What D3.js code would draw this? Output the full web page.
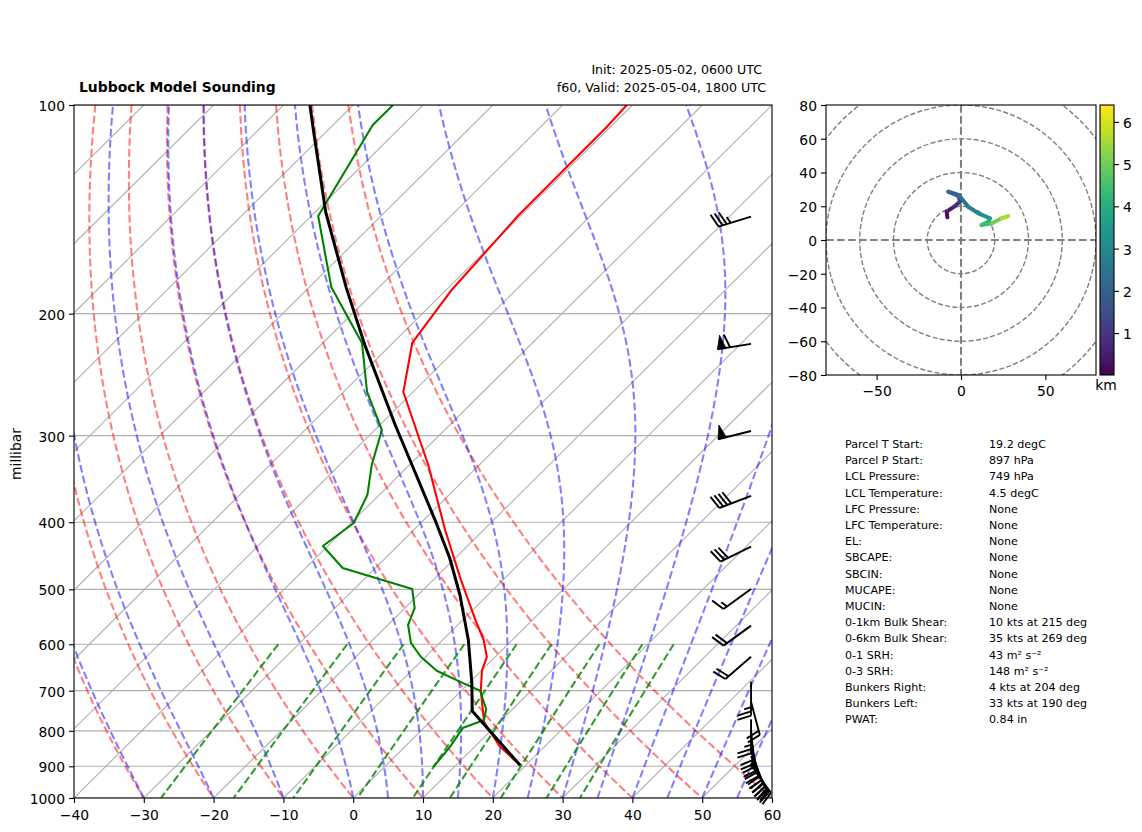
<!DOCTYPE html>
<html>
<head>
<meta charset="utf-8">
<script src="https://cdn.jsdelivr.net/npm/d3@7"></script>
<style>
  html, body { margin: 0; padding: 0; background: #fff; }
  text { font-family: "DejaVu Sans", sans-serif; fill: #000; }
  .tick text { font-size: 13.9px; }
</style>
</head>
<body>
<svg id="chart" width="1142" height="832"></svg>
<script>
// sounding values
const tempP = [100, 107.6, 144.6, 184.9, 220.5, 259.5, 330.7, 410.5, 484.8, 557, 591.6, 626, 653.7, 698.6, 777, 843, 897];
const tempC = [-60.8, -60.5, -60.4, -59.2, -57.2, -51.4, -37.3, -25.5, -16, -7.8, -4.1, -1.2, 0, 2.7, 7.8, 13.6, 19.2];

const dewP = [100, 106.9, 144.6, 183, 220.5, 259.5, 294.4, 330.7, 365.3, 401, 432.9, 465.7, 499.4, 532, 562.8, 597.4, 625.4, 655.2, 679.4, 700.2, 743.9, 771.9, 792.7, 844, 902];
const dewC = [-94.3, -94.3, -89, -76.9, -64.4, -56.6, -49, -45.4, -41.7, -39.6, -40.7, -34.7, -21.7, -18.6, -17.1, -14.1, -10.7, -6.4, -1.5, 2.7, 6.2, 7.5, 5.6, 6.5, 7];

const parcelP = [100, 108, 142.7, 183.6, 222, 289.6, 336.3, 399.6, 450.5, 509.4, 591.6, 682.4, 749, 897];
const parcelC = [-106.2, -102.4, -88.5, -74.6, -63.7, -47.8, -38.6, -28, -20.8, -14, -6.3, 0.4, 4.5, 19.2];

// wind barbs
const barbP = [144.9, 221.2, 295.4, 366.4, 433.9, 499.4, 564, 625.4, 679.4, 727, 770, 798, 816.5, 833, 847, 858, 870, 881, 890, 897];
const barbDir = [253, 261, 256, 249, 244, 234, 234, 229, 180, 165, 180, 175, 171, 168, 163, 159, 156, 152, 148, 144];
const barbKt = [35, 60, 50, 40, 30, 15, 20, 20, 25, 20, 25, 20, 20, 20, 20, 20, 20, 25, 20, 20];

// hodograph
const hodoU = [-8.1, -8.5, -3.6, -0.6, -1.6, -7.5, -0.6, 4.3, 10.3, 17.2, 16.2, 12.2, 18.2, 24.1, 28];
const hodoV = [13.4, 16.8, 20.1, 22.7, 26.7, 28.6, 25.7, 19.7, 15.8, 12.9, 10.8, 8.9, 9.9, 12.9, 14.2];
const hodoKm = [0.1, 0.4, 0.7, 1, 1.4, 1.9, 2.2, 2.6, 3, 3.4, 3.8, 4.2, 4.7, 5.3, 5.9];

// guide line families
const pressureTicks = [100, 200, 300, 400, 500, 600, 700, 800, 900, 1000];
const tempTicks = d3.range(-40, 61, 10);
const isotherms = d3.range(-130, 61, 10);
const dryStart = d3.range(-40, 61, 10);
const moistStart = [-40, -30, -20, -10, 0, 5, 10, 15, 20, 25, 30, 35, 40, 45, 50, 55, 60];
const mixRatios = [0.0004, 0.001, 0.002, 0.004, 0.007, 0.01, 0.016, 0.024, 0.032];
const hodoRings = [20, 40, 60, 80, 100, 120];

const statLabels = ["Parcel T Start:", "Parcel P Start:", "LCL Pressure:", "LCL Temperature:", "LFC Pressure:", "LFC Temperature:", "EL:", "SBCAPE:", "SBCIN:", "MUCAPE:", "MUCIN:", "0-1km Bulk Shear:", "0-6km Bulk Shear:", "0-1 SRH:", "0-3 SRH:", "Bunkers Right:", "Bunkers Left:", "PWAT:"];
const statValues = ["19.2 degC", "897 hPa", "749 hPa", "4.5 degC", "None", "None", "None", "None", "None", "None", "None", "10 kts at 215 deg", "35 kts at 269 deg", "43 m\u00b2 s\u207b\u00b2", "148 m\u00b2 s\u207b\u00b2", "4 kts at 204 deg", "33 kts at 190 deg", "0.84 in"];

const svg = d3.select("#chart");

const plotL = 74, plotR = 772, plotT = 105, plotB = 798;
const x = d3.scaleLinear().domain([-40, 60]).range([plotL, plotR]);
const y = d3.scaleLog().domain([1000, 100]).range([plotB, plotT]);
const skew = (plotR - plotL) / (plotB - plotT);

// skewed position of a temperature at a pressure
function px(t, p) {
    return x(t) + (plotB - y(p)) * skew;
}
const skewLine = d3.line().x(d => px(d[0], d[1])).y(d => y(d[1]));
const stepP = d3.range(100, 1001, 10);

function satVap(tk) {
    return 6.112 * Math.exp(17.67 * (tk - 273.15) / (tk - 29.65));
}
// moist lapse rate, dT/dp
function moistRate(p, tk) {
    const rs = 0.622 * satVap(tk) / (p - satVap(tk));
    return (287 * tk + 2.501e6 * rs) / (1005 + 2.501e6 * 2.501e6 * rs * 0.622 / (287 * tk * tk)) / p;
}
function moistCurve(t0) {
    let tk = t0 + 273.15;
    const out = [[t0, 1000]];
    for (let p = 1000; p > 100; p -= 5) {
        const k1 = moistRate(p, tk);
        const k2 = moistRate(p - 2.5, tk - 2.5 * k1);
        const k3 = moistRate(p - 2.5, tk - 2.5 * k2);
        const k4 = moistRate(p - 5, tk - 5 * k3);
        tk -= 5 * (k1 + 2 * k2 + 2 * k3 + k4) / 6;
        out.push([tk - 273.15, p - 5]);
    }
    return out;
}
function mixCurve(w) {
    return d3.range(600, 1001, 25).map(p => {
        const g = Math.log(p * w / (0.622 + w) / 6.112);
        return [243.5 * g / (17.67 - g), p];
    });
}

svg.append("defs").append("clipPath").attr("id", "skewClip")
    .append("rect").attr("x", plotL).attr("y", plotT).attr("width", plotR - plotL).attr("height", plotB - plotT);

const plot = svg.append("g").attr("clip-path", "url(#skewClip)");

// grid
plot.selectAll(".pgrid").data(pressureTicks).enter().append("line")
    .attr("x1", plotL).attr("x2", plotR)
    .attr("y1", d => y(d)).attr("y2", d => y(d))
    .attr("stroke", "#b0b0b0").attr("stroke-width", 1.1);
plot.selectAll(".iso").data(isotherms).enter().append("path")
    .attr("d", d => skewLine([[d, 1000], [d, 100]]))
    .attr("fill", "none").attr("stroke", "#b0b0b0").attr("stroke-width", 1.1);

// dry adiabats
plot.selectAll(".dry").data(dryStart).enter().append("path")
    .attr("d", d => skewLine(stepP.map(p => [(d + 273.15) * Math.pow(p / 1000, 0.286) - 273.15, p])))
    .attr("fill", "none").attr("stroke", "#f00").attr("stroke-opacity", 0.5)
    .attr("stroke-width", 2.08).attr("stroke-dasharray", "7.7 3.3");
// moist adiabats
plot.selectAll(".moist").data(moistStart).enter().append("path")
    .attr("d", d => skewLine(moistCurve(d)))
    .attr("fill", "none").attr("stroke", "#00f").attr("stroke-opacity", 0.5)
    .attr("stroke-width", 2.08).attr("stroke-dasharray", "7.7 3.3");
// mixing ratio
plot.selectAll(".mix").data(mixRatios).enter().append("path")
    .attr("d", d => skewLine(mixCurve(d)))
    .attr("fill", "none").attr("stroke", "#008000").attr("stroke-opacity", 0.8)
    .attr("stroke-width", 2.08).attr("stroke-dasharray", "7.7 3.3");

// profiles
function profile(ps, ts, color, width) {
    plot.append("path")
        .attr("d", skewLine(ps.map((p, i) => [ts[i], p])))
        .attr("fill", "none").attr("stroke", color).attr("stroke-width", width)
        .attr("stroke-linejoin", "round");
}
profile(tempP, tempC, "#f00", 2.08);
profile(dewP, dewC, "#008000", 2.08);
profile(parcelP, parcelC, "#000", 3);

// wind barbs
const barbX = plotL + 0.97 * (plotR - plotL);
const barbLen = 34;
function barbParts(dir, kt) {
    const a = dir * Math.PI / 180;
    const dx = Math.sin(a), dy = -Math.cos(a);
    const nx = -dy, ny = dx;
    const h = 0.4 * barbLen, w = 0.25 * barbLen, gap = 0.125 * barbLen;
    const at = (s, n) => [(barbLen - s) * dx + n * nx, (barbLen - s) * dy + n * ny];
    const lines = [[at(barbLen, 0), at(0, 0)]], flags = [];
    let fives = Math.round(kt / 5), s = 0;
    while (fives >= 10) {
        flags.push([at(s, 0), at(s + w / 2, h), at(s + w, 0)]);
        s += w + gap;
        fives -= 10;
    }
    while (fives >= 2) {
        lines.push([at(s, 0), at(s - w / 2, h)]);
        s += gap;
        fives -= 2;
    }
    if (fives === 1) lines.push([at(s, 0), at(s - w / 4, h / 2)]);
    return {lines, flags};
}
const barbs = svg.selectAll(".barb").data(barbP).enter().append("g")
    .attr("class", "barb")
    .attr("transform", d => "translate(" + barbX + "," + y(d) + ")");
barbs.each(function (d, i) {
    const parts = barbParts(barbDir[i], barbKt[i]);
    const g = d3.select(this);
    g.selectAll("polyline").data(parts.lines).enter().append("polyline")
        .attr("points", l => l.map(q => q.join(",")).join(" "))
        .attr("fill", "none").attr("stroke", "#000").attr("stroke-width", 1.9);
    g.selectAll("polygon").data(parts.flags).enter().append("polygon")
        .attr("points", l => l.map(q => q.join(",")).join(" "))
        .attr("fill", "#000").attr("stroke", "#000").attr("stroke-width", 0.8);
});

// frame and axes
svg.append("rect").attr("x", plotL).attr("y", plotT).attr("width", plotR - plotL).attr("height", plotB - plotT)
    .attr("fill", "none").attr("stroke", "#000").attr("stroke-width", 1.1);
svg.append("g").attr("transform", "translate(0," + plotB + ")")
    .call(d3.axisBottom(x).tickValues(tempTicks).tickFormat(d3.format("d")).tickSize(5).tickPadding(7).tickSizeOuter(0))
    .call(g => g.select(".domain").remove());
svg.append("g").attr("class", "vert").attr("transform", "translate(" + plotL + ",0)")
    .call(d3.axisLeft(y).tickValues(pressureTicks).tickFormat(d3.format("d")).tickSize(5).tickPadding(4).tickSizeOuter(0))
    .call(g => g.select(".domain").remove());

svg.append("text").attr("transform", "translate(21,454) rotate(-90)")
    .attr("text-anchor", "middle").attr("font-size", 13.9).text("millibar");
svg.append("text").attr("x", 79).attr("y", 92).attr("font-size", 13.9).attr("font-weight", "bold")
    .text("Lubbock Model Sounding");
svg.append("text").attr("x", 762).attr("y", 74).attr("text-anchor", "end").attr("font-size", 12.6)
    .text("Init: 2025-05-02, 0600 UTC");
svg.append("text").attr("x", 766).attr("y", 92).attr("text-anchor", "end").attr("font-size", 12.6)
    .text("f60, Valid: 2025-05-04, 1800 UTC");

// hodograph
const hx = d3.scaleLinear().domain([-80, 80]).range([826, 1096]);
const hy = d3.scaleLinear().domain([-80, 80]).range([375, 105]);
const kmDomain = [0.007, 6.4];
const viridis = d3.scaleSequential(d3.interpolateViridis).domain(kmDomain);

svg.select("defs").append("clipPath").attr("id", "hodoClip")
    .append("rect").attr("x", 826).attr("y", 105).attr("width", 270).attr("height", 270);
const hodo = svg.append("g").attr("clip-path", "url(#hodoClip)");
hodo.selectAll("circle").data(hodoRings).enter().append("circle")
    .attr("cx", hx(0)).attr("cy", hy(0))
    .attr("r", d => hx(d) - hx(0))
    .attr("fill", "none").attr("stroke", "#808080").attr("stroke-width", 1.4).attr("stroke-dasharray", "5.1 2.2");
hodo.append("line").attr("x1", 826).attr("x2", 1096).attr("y1", hy(0)).attr("y2", hy(0))
    .attr("stroke", "#808080").attr("stroke-width", 2.08).attr("stroke-dasharray", "7.7 3.3");
hodo.append("line").attr("x1", hx(0)).attr("x2", hx(0)).attr("y1", 105).attr("y2", 375)
    .attr("stroke", "#808080").attr("stroke-width", 2.08).attr("stroke-dasharray", "7.7 3.3");
hodo.selectAll(".seg").data(d3.range(hodoU.length - 1)).enter().append("line")
    .attr("x1", i => hx(hodoU[i])).attr("y1", i => hy(hodoV[i]))
    .attr("x2", i => hx(hodoU[i + 1])).attr("y2", i => hy(hodoV[i + 1]))
    .attr("stroke", i => viridis((hodoKm[i] + hodoKm[i + 1]) / 2))
    .attr("stroke-width", 4).attr("stroke-linecap", "round");

svg.append("rect").attr("x", 826).attr("y", 105).attr("width", 270).attr("height", 270)
    .attr("fill", "none").attr("stroke", "#000").attr("stroke-width", 1.1);
svg.append("g").attr("transform", "translate(0,375)")
    .call(d3.axisBottom(hx).tickValues([-50, 0, 50]).tickFormat(d3.format("d")).tickSize(5).tickPadding(6).tickSizeOuter(0))
    .call(g => g.select(".domain").remove());
svg.append("g").attr("class", "vert").attr("transform", "translate(826,0)")
    .call(d3.axisLeft(hy).tickValues(d3.range(-80, 81, 20)).tickFormat(d3.format("d")).tickSize(5).tickPadding(4).tickSizeOuter(0))
    .call(g => g.select(".domain").remove());

// colorbar
const barY = d3.scaleLinear().domain(kmDomain).range([375, 105]);
const grad = svg.select("defs").append("linearGradient").attr("id", "kmGrad")
    .attr("x1", 0).attr("x2", 0).attr("y1", 1).attr("y2", 0);
grad.selectAll("stop").data(d3.range(0, 1.001, 0.05)).enter().append("stop")
    .attr("offset", d => d)
    .attr("stop-color", d => d3.interpolateViridis(d));
svg.append("rect").attr("x", 1100).attr("y", 105).attr("width", 14).attr("height", 270)
    .attr("fill", "url(#kmGrad)").attr("stroke", "#000").attr("stroke-width", 1.1);
svg.append("g").attr("class", "vert").attr("transform", "translate(1114,0)")
    .call(d3.axisRight(barY).tickValues([1, 2, 3, 4, 5, 6]).tickFormat(d3.format("d")).tickSize(5).tickPadding(4).tickSizeOuter(0))
    .call(g => g.select(".domain").remove());
svg.append("text").attr("x", 1106).attr("y", 390).attr("text-anchor", "middle").attr("font-size", 13.9).text("km");

svg.selectAll(".tick line").attr("stroke", "#000").attr("stroke-width", 1.1);
svg.selectAll(".tick text").attr("fill", "#000").attr("font-family", null);
svg.selectAll(".vert .tick text").attr("transform", "translate(0,1)");

// parcel table
const rowY = d3.scaleLinear().domain([0, statLabels.length - 1]).range([444, 719.5]);
svg.selectAll(".statLabel").data(statLabels).enter().append("text")
    .attr("x", 845).attr("y", (d, i) => rowY(i)).attr("dy", "0.35em")
    .attr("font-size", 11.1).text(d => d);
svg.selectAll(".statValue").data(statValues).enter().append("text")
    .attr("x", 989).attr("y", (d, i) => rowY(i)).attr("dy", "0.35em")
    .attr("font-size", 11.1).text(d => d);
</script>
</body>
</html>
